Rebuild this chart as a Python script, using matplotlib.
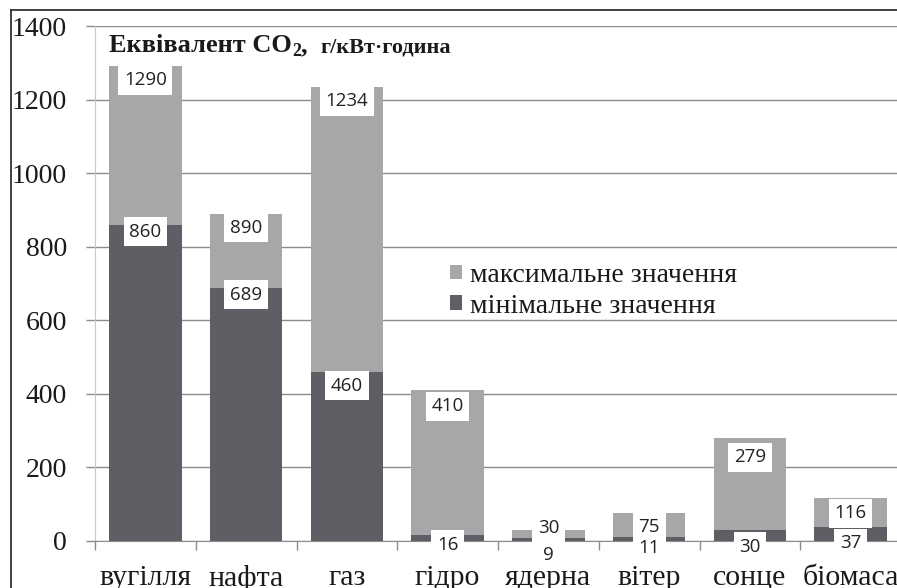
import numpy as np
import matplotlib
matplotlib.use("Agg")
import matplotlib.pyplot as plt
from matplotlib.lines import Line2D

# Life-cycle CO2-equivalent emissions by energy source, g/kWh
categories = ['вугілля', 'нафта', 'газ', 'гідро', 'ядерна', 'вітер', 'сонце', 'біомаса']
max_vals = [1290, 890, 1234, 410, 30, 75, 279, 116]
min_vals = [860, 689, 460, 16, 9, 11, 30, 37]
yticks = [0, 200, 400, 600, 800, 1000, 1200, 1400]
legend_labels = ['максимальне значення', 'мінімальне значення']

# vertical offsets (px) of the value labels relative to the bar tops
max_label_dy = [-14, -14, -14, -16, 2, -14, -19, -15]
min_label_dy = [-7, -7, -14, -10, -17, -11, -17, -16]

SERIF = ['Liberation Serif', 'DejaVu Serif']
SANS = ['Open Sans', 'DejaVu Sans']
plt.rcParams['font.family'] = SERIF
LIGHT = '#a7a7a9'
DARK = '#5e5f64'
GRID = '#8c8c8c'

W, H = 897, 588
fig = plt.figure(figsize=(W / 100, H / 100), dpi=100)
fig.patch.set_facecolor('white')
ax = fig.add_axes([95 / W, 47 / H, 806 / W, 515 / H])

x = np.arange(len(categories))
bw = 0.72
b_max = ax.bar(x, max_vals, width=bw, color=LIGHT, zorder=2)
b_min = ax.bar(x, min_vals, width=bw, color=DARK, zorder=3)

ax.set_xlim(-0.5, len(categories) - 0.5)
ax.set_ylim(0, 1400)
ax.set_yticks(yticks)
ax.set_yticklabels([str(v) for v in yticks])
ax.yaxis.grid(True, color=GRID, lw=1.0)
ax.set_axisbelow(True)

# category boundary ticks, labels centred under the bars
ax.set_xticks(np.arange(-0.5, len(categories), 1))
ax.set_xticklabels([])
ax.set_xticks(x, minor=True)
ax.set_xticklabels(categories, minor=True)
ax.tick_params(axis='x', which='major', length=6.5, width=1, color=GRID)
ax.tick_params(axis='x', which='minor', length=0, pad=17, labelsize=21.5, labelcolor='#1a1a1a')
ax.tick_params(axis='y', length=6.5, width=1, color=GRID, pad=13.5, labelsize=20,
               labelcolor='#1a1a1a')

for s in ('top', 'right'):
    ax.spines[s].set_visible(False)
ax.spines['left'].set_color('#c8c8c8')
ax.spines['bottom'].set_color(GRID)

px = 0.72  # points per pixel at 100 dpi
box = dict(boxstyle='square,pad=0.3', fc='white', ec='none')
for i in range(len(categories)):
    ax.annotate(str(max_vals[i]), (x[i], max_vals[i]), xytext=(0, max_label_dy[i] * px),
                textcoords='offset points', ha='center', va='center',
                family=SANS, fontsize=13.5, color='#222222', bbox=box, zorder=5)
    ax.annotate(str(min_vals[i]), (x[i], min_vals[i]), xytext=(0, min_label_dy[i] * px),
                textcoords='offset points', ha='center', va='center',
                family=SANS, fontsize=13.5, color='#222222', bbox=box, zorder=5,
                annotation_clip=False)

ax.legend([b_max, b_min], legend_labels, loc='upper left',
          bbox_to_anchor=(450 / W, 1 - 263 / H), bbox_transform=fig.transFigure,
          frameon=False, prop={'size': 20}, labelcolor='#1a1a1a',
          handlelength=0.42, handleheight=0.42, handletextpad=0.3,
          labelspacing=0.2, borderaxespad=0, borderpad=0)

# chart title built from pieces: main text, subscript, units
fig.canvas.draw()
renderer = fig.canvas.get_renderer()
x0 = 109 / W
base = 1 - 52 / H
pieces = [('Еквівалент CO', 19, 0), ('2', 13, -4), (',  ', 19, 0), ('г/кВт·година', 16, 0)]
for txt, fs, dy in pieces:
    t = fig.text(x0, base + dy / H, txt, fontsize=fs, fontweight='bold',
                 color='#1a1a1a', va='baseline', ha='left')
    bb = t.get_window_extent(renderer)
    x0 += bb.width / W

# outer frame lines on the left and top
fig.add_artist(Line2D([11 / W, 11 / W], [0, 1 - 10 / H], transform=fig.transFigure,
                      color='#333333', lw=1.3))
fig.add_artist(Line2D([11 / W, 1], [1 - 10 / H, 1 - 10 / H], transform=fig.transFigure,
                      color='#333333', lw=1.3))

fig.savefig('out.png', dpi=100)
